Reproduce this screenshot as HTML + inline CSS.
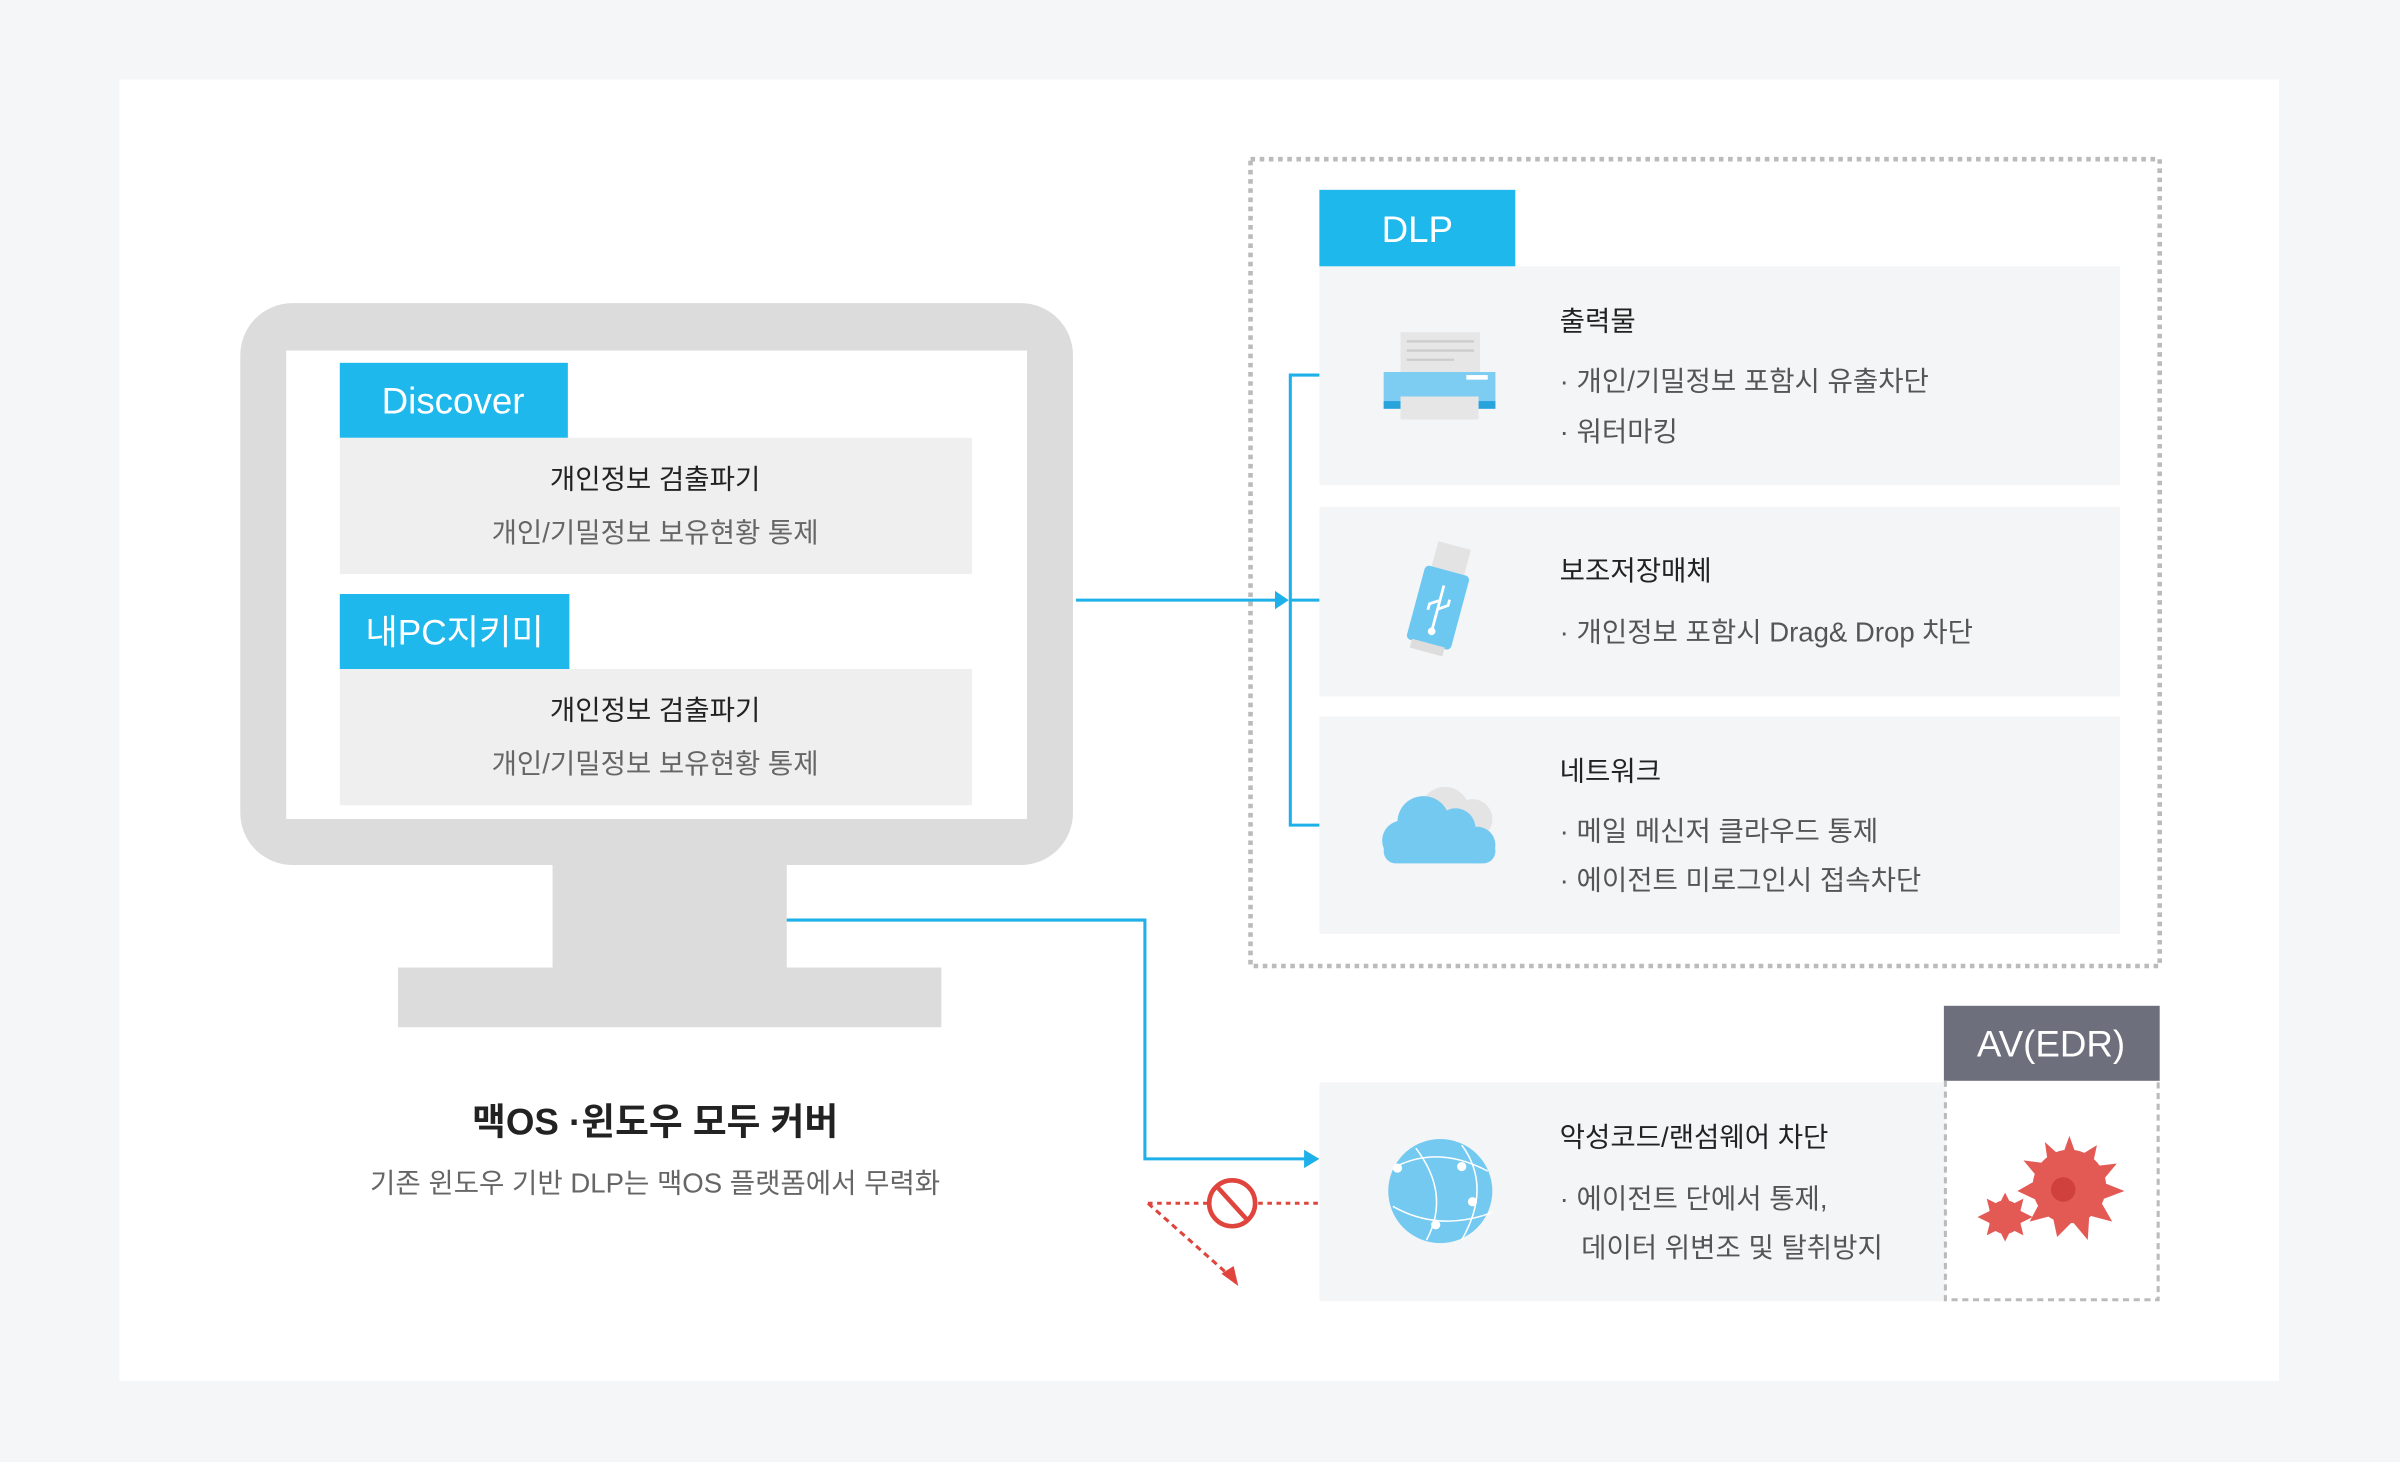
<!DOCTYPE html>
<html><head><meta charset="utf-8"><style>
html,body{margin:0;padding:0;background:#f5f6f8;}
svg{display:block;}
text{font-family:"Liberation Sans","Noto Sans CJK KR",sans-serif;}
</style></head><body>
<svg width="2400" height="1462" viewBox="0 0 1568 955" preserveAspectRatio="none" xmlns="http://www.w3.org/2000/svg">
<rect x="0" y="0" width="1568" height="955" fill="#f5f6f8"/>
<rect x="78" y="52" width="1411" height="850" fill="#fff"/>
<rect x="157" y="198" width="544" height="367" rx="34" fill="#dcdcdc"/>
<rect x="187" y="229" width="484" height="306" fill="#fff"/>
<rect x="361" y="564" width="153" height="69" fill="#dcdcdc"/>
<rect x="260" y="632" width="355" height="39" fill="#dcdcdc"/>
<rect x="222" y="237" width="149" height="49" fill="#1eb8ec"/>
<text x="296" y="270" font-size="24" fill="#fff" text-anchor="middle">Discover</text>
<rect x="222" y="286" width="413" height="89" fill="#efefef"/>
<text x="428" y="319" font-size="18" fill="#222" text-anchor="middle">개인정보 검출파기</text>
<text x="428" y="354" font-size="18" fill="#666" text-anchor="middle">개인/기밀정보 보유현황 통제</text>
<rect x="222" y="388" width="150" height="49" fill="#1eb8ec"/>
<text x="297" y="421" font-size="23" fill="#fff" text-anchor="middle">내PC지키미</text>
<rect x="222" y="437" width="413" height="89" fill="#efefef"/>
<text x="428" y="470" font-size="18" fill="#222" text-anchor="middle">개인정보 검출파기</text>
<text x="428" y="505" font-size="18" fill="#666" text-anchor="middle">개인/기밀정보 보유현황 통제</text>
<text x="428" y="741" font-size="24" font-weight="bold" fill="#222" text-anchor="middle">맥OS ·윈도우 모두 커버</text>
<text x="428" y="779" font-size="18" fill="#666" text-anchor="middle">기존 윈도우 기반 DLP는 맥OS 플랫폼에서 무력화</text>
<rect x="817" y="104" width="594" height="527" fill="none" stroke="#bbb" stroke-width="3" stroke-dasharray="3,3"/>
<rect x="862" y="124" width="128" height="50" fill="#1eb8ec"/>
<text x="926" y="158" font-size="24" fill="#fff" text-anchor="middle">DLP</text>
<rect x="862" y="174" width="523" height="143" fill="#f4f5f7"/>
<rect x="862" y="331" width="523" height="124" fill="#f4f5f7"/>
<rect x="862" y="468" width="523" height="142" fill="#f4f5f7"/>
<rect x="915" y="217" width="52" height="26" fill="#e6e6e6"/>
<g stroke="#ccc" stroke-width="1.5"><line x1="919" y1="223" x2="963" y2="223"/><line x1="919" y1="229" x2="963" y2="229"/><line x1="919" y1="235" x2="950" y2="235"/></g>
<rect x="904" y="243" width="73" height="24" fill="#7dcdf2"/>
<rect x="904" y="262" width="73" height="5" fill="#29a3dc"/>
<rect x="915" y="259" width="51" height="15" fill="#e6e6e6"/>
<rect x="958" y="245" width="14" height="3" fill="#fff"/>
<g transform="rotate(15 940 395)">
<rect x="929" y="355" width="22" height="18" fill="#e3e3e3"/>
<rect x="925" y="372" width="30" height="50" rx="3" fill="#6cc8f1"/>
<rect x="929" y="421" width="22" height="6" fill="#ddd"/>
<path d="M940 382 v30 M940 392 l-6 4 v4 M940 398 l6 -4 v-4" stroke="#fff" stroke-width="1.8" fill="none"/>
<circle cx="940" cy="413" r="2.5" fill="#fff"/>
</g>
<circle cx="944" cy="530" r="16" fill="#e4e4e4"/><circle cx="962" cy="535" r="13" fill="#e4e4e4"/>
<circle cx="930" cy="537" r="17" fill="#74c9f1"/><circle cx="951" cy="541" r="13" fill="#74c9f1"/><circle cx="916" cy="549" r="13" fill="#74c9f1"/><circle cx="965" cy="552" r="12" fill="#74c9f1"/>
<rect x="904" y="548" width="73" height="16" rx="8" fill="#74c9f1"/>
<g font-size="18" fill="#555">
<text x="1019" y="216" fill="#222">출력물</text>
<text x="1019" y="255">· 개인/기밀정보 포함시 유출차단</text>
<text x="1019" y="288">· 워터마킹</text>
<text x="1019" y="379" fill="#222">보조저장매체</text>
<text x="1019" y="419">· 개인정보 포함시 Drag&amp; Drop 차단</text>
<text x="1019" y="510" fill="#222">네트워크</text>
<text x="1019" y="549">· 메일 메신저 클라우드 통제</text>
<text x="1019" y="581">· 에이전트 미로그인시 접속차단</text>
</g>
<g stroke="#1eb0e8" stroke-width="2" fill="none">
<path d="M703 392 H836"/>
<path d="M862 245 H843 V539 H862"/>
<path d="M843 392 H862"/>
<path d="M514 601 H748 V757 H854"/>
</g>
<polygon points="833,386 842,392 833,398" fill="#1eb0e8"/>
<polygon points="852,751 862,757 852,763" fill="#1eb0e8"/>
<rect x="1270" y="657" width="141" height="49" fill="#6d707c"/>
<text x="1340" y="690" font-size="24" fill="#fff" text-anchor="middle">AV(EDR)</text>
<rect x="862" y="707" width="409" height="143" fill="#f4f5f7"/>
<path d="M1271 706 V849 H1410 V706" fill="none" stroke="#bbb" stroke-width="2" stroke-dasharray="4,3"/>
<circle cx="941" cy="778" r="34" fill="#74c9f1"/>
<g stroke="#fff" stroke-width="1" fill="none"><path d="M912 762 Q940 748 972 765"/><path d="M910 788 Q940 805 975 792"/><path d="M925 750 Q948 780 932 810"/><path d="M955 748 Q975 775 955 810"/></g>
<g fill="#fff"><circle cx="913" cy="763" r="3"/><circle cx="955" cy="762" r="3"/><circle cx="962" cy="785" r="3"/><circle cx="938" cy="800" r="3"/></g>
<g font-size="18" fill="#555">
<text x="1019" y="749" fill="#222">악성코드/랜섬웨어 차단</text>
<text x="1019" y="789">· 에이전트 단에서 통제,</text>
<text x="1033" y="821">데이터 위변조 및 탈취방지</text>
</g>
<g fill="#e35a55">
<circle cx="1352" cy="775" r="24"/>
<polygon points="1352,742 1357,756 1370,748 1367,762 1383,760 1373,772 1388,778 1372,784 1380,798 1365,794 1364,810 1354,798 1344,808 1341,794 1326,798 1333,785 1318,778 1332,770 1322,758 1338,760 1336,746 1347,756"/>
<circle cx="1310" cy="795" r="11"/>
<polygon points="1310,779 1314,787 1322,783 1320,791 1328,795 1320,799 1322,807 1314,803 1310,811 1306,803 1298,807 1300,799 1292,795 1300,791 1298,783 1306,787"/>
</g>
<circle cx="1348" cy="777" r="8" fill="#d0403c"/>
<path d="M750 786 H862" stroke="#e0453d" stroke-width="2" stroke-dasharray="3,3"/>
<path d="M750 786 L803 833" stroke="#e0453d" stroke-width="2" stroke-dasharray="4,3"/>
<polygon points="798,832 809,840 806,827" fill="#e0453d"/>
<circle cx="805" cy="786" r="15" fill="#fff" stroke="#e0453d" stroke-width="3"/>
<line x1="795" y1="775" x2="815" y2="797" stroke="#e0453d" stroke-width="3"/>
</svg>
</body></html>
